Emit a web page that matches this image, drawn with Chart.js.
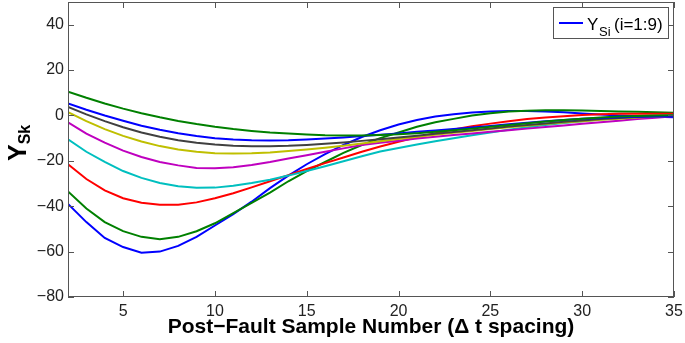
<!DOCTYPE html>
<html>
<head>
<meta charset="utf-8">
<script src="https://cdn.jsdelivr.net/npm/chart.js@4.4.0/dist/chart.umd.min.js"></script>
<style>
  html, body { margin: 0; padding: 0; background: #fff; }
</style>
</head>
<body>
<canvas id="myChart" width="685" height="343"></canvas>
<script>
// post-fault sample numbers (x)
const sampleNumbers = [2, 3, 4, 5, 6, 7, 8, 9, 10, 11, 12, 13, 14, 15, 16, 17, 18,
  19, 20, 21, 22, 23, 24, 25, 26, 27, 28, 29, 30, 31, 32, 33, 34, 35];

// Y_Si for i = 1..9
const ysi1 = [-39, -47, -54, -58, -60.5, -60, -57.5, -53.5, -48.5, -43.5, -38, -32, -26.5, -21.5, -17, -13, -9.5,
  -6.5, -4, -2, -0.5, 0.5, 1.3, 1.8, 2, 2, 1.8, 1.4, 0.9, 0.4, 0, -0.3, -0.6, -0.8];
const ysi2 = [-33.5, -41, -47, -51, -53.5, -54.5, -53.5, -51, -47.5, -43, -38.5, -34, -29, -24.5, -20.5, -16.5, -13,
  -10, -7.5, -5, -3, -1.5, 0, 1, 1.7, 2.1, 2.3, 2.3, 2.2, 2, 1.8, 1.6, 1.4, 1.2];
const ysi3 = [-21.5, -28, -33, -36.5, -38.5, -39.3, -39.3, -38.3, -36.5, -34.3, -31.7, -29, -26.3, -23.6, -21, -18.5, -16,
  -13.7, -11.6, -9.6, -7.8, -6.2, -4.8, -3.6, -2.5, -1.6, -0.9, -0.3, 0.2, 0.5, 0.7, 0.8, 0.8, 0.7];
const ysi4 = [-10.5, -16, -20.5, -24.5, -27.5, -29.8, -31.2, -31.9, -31.8, -31, -29.8, -28.3, -26.5, -24.5, -22.4, -20.2, -18,
  -15.9, -14.3, -12.8, -11.4, -10, -8.7, -7.5, -6.3, -5.2, -4.2, -3.3, -2.5, -1.8, -1.2, -0.7, -0.3, 0];
const ysi5 = [-3, -8, -12, -15.5, -18.3, -20.5, -22, -23.2, -23.3, -22.8, -21.8, -20.5, -19, -17.5, -16, -14.5, -13,
  -12, -11.1, -10.2, -9.4, -8.6, -7.9, -7.2, -6.5, -5.8, -5.1, -4.4, -3.7, -3, -2.3, -1.6, -1, -0.4];
const ysi6 = [1.5, -2.5, -6, -9, -11.5, -13.5, -15, -16, -16.6, -16.8, -16.7, -16.3, -15.7, -15, -14.2, -13.3, -12.4,
  -11.4, -10.4, -9.4, -8.5, -7.6, -6.8, -6, -5.2, -4.5, -3.8, -3.1, -2.5, -1.9, -1.4, -0.9, -0.5, -0.1];
const ysi7 = [3.8, 0.5, -2.5, -5.2, -7.5, -9.4, -10.9, -12, -12.8, -13.3, -13.6, -13.6, -13.4, -13, -12.5, -11.9, -11.2,
  -10.5, -9.7, -8.9, -8.1, -7.3, -6.5, -5.7, -4.9, -4.2, -3.5, -2.8, -2.2, -1.6, -1.1, -0.7, -0.4, -0.2];
const ysi8 = [5.3, 2.5, 0, -2.3, -4.5, -6.3, -7.8, -9, -10, -10.6, -10.9, -11, -10.9, -10.6, -10.2, -9.7, -9.1,
  -8.5, -7.9, -7.2, -6.6, -6, -5.3, -4.6, -3.9, -3.2, -2.6, -2, -1.5, -1.1, -0.8, -0.6, -0.5, -0.5];
const ysi9 = [10.5, 7.8, 5.3, 3, 1, -0.8, -2.4, -3.8, -5, -6, -6.8, -7.5, -8, -8.4, -8.7, -8.8, -8.8,
  -8.6, -8.3, -7.8, -7.2, -6.5, -5.8, -5, -4.2, -3.4, -2.7, -2, -1.4, -0.9, -0.5, -0.2, 0, 0.1];

const allSeries = [ysi1, ysi2, ysi3, ysi4, ysi5, ysi6, ysi7, ysi8, ysi9];
const seriesColors = ['#0000ff', '#008000', '#ff0000', '#00bfbf', '#bf00bf', '#bfbf00', '#404040', '#0000ff', '#008000'];

const xTicks = [5, 10, 15, 20, 25, 30, 35];
const yTicks = [-80, -60, -40, -20, 0, 20, 40];

const FONT = '"Liberation Sans", Arial, Helvetica, sans-serif';
const AXIS_COLOR = '#555';

const datasets = allSeries.map((vals, i) => ({
  label: 'Y_S' + (i + 1),
  data: vals.map((v, j) => ({ x: sampleNumbers[j], y: v })),
  borderColor: seriesColors[i],
  borderWidth: 2,
  pointRadius: 0,
  tension: 0,
  fill: false,
  order: allSeries.length - i
}));

// box, inward ticks, subscripted y title and legend (matlab look)
const matlabFrame = {
  id: 'matlabFrame',
  afterDraw(chart) {
    const ctx = chart.ctx;
    const a = chart.chartArea;
    const xs = chart.scales.x, ys = chart.scales.y;
    ctx.save();
    ctx.strokeStyle = AXIS_COLOR;
    ctx.lineWidth = 1;
    ctx.strokeRect(a.left + 0.5, a.top + 0.5, a.right - a.left - 1, a.bottom - a.top - 1);
    ctx.beginPath();
    xTicks.forEach(v => {
      const px = Math.round(xs.getPixelForValue(v)) + 0.5;
      ctx.moveTo(px, a.bottom); ctx.lineTo(px, a.bottom - 6);
      ctx.moveTo(px, a.top); ctx.lineTo(px, a.top + 6);
    });
    yTicks.forEach(v => {
      const py = Math.round(ys.getPixelForValue(v)) + 0.5;
      ctx.moveTo(a.left, py); ctx.lineTo(a.left + 6, py);
      ctx.moveTo(a.right, py); ctx.lineTo(a.right - 6, py);
    });
    ctx.stroke();

    // y axis title: Y_Sk
    ctx.fillStyle = '#000';
    ctx.translate(26, 161);
    ctx.rotate(-Math.PI / 2);
    ctx.textBaseline = 'alphabetic';
    ctx.textAlign = 'left';
    ctx.font = 'bold 25px ' + FONT;
    ctx.fillText('Y', 0, 0);
    const wY = ctx.measureText('Y').width;
    ctx.font = 'bold 16px ' + FONT;
    ctx.fillText('Sk', wY, 4);
    ctx.restore();

    // legend
    ctx.save();
    const lx = 553, ly = 7, lw = 115, lh = 31;
    ctx.fillStyle = '#fff';
    ctx.fillRect(lx, ly, lw, lh);
    ctx.strokeStyle = AXIS_COLOR;
    ctx.lineWidth = 1;
    ctx.strokeRect(lx + 0.5, ly + 0.5, lw, lh);
    ctx.strokeStyle = seriesColors[0];
    ctx.lineWidth = 2;
    ctx.beginPath();
    ctx.moveTo(559, 23); ctx.lineTo(583, 23);
    ctx.stroke();
    ctx.fillStyle = '#000';
    ctx.textBaseline = 'alphabetic';
    ctx.font = '17px ' + FONT;
    ctx.fillText('Y', 587, 30);
    ctx.font = '13px ' + FONT;
    ctx.fillText('Si', 599, 36);
    ctx.font = '17px ' + FONT;
    ctx.fillText('(i=1:9)', 614, 30);
    ctx.restore();
  }
};

const config = {
  type: 'line',
  data: { datasets: datasets },
  options: {
    responsive: false,
    animation: false,
    layout: { padding: { left: 0, right: 11, top: 2, bottom: 0 } },
    plugins: {
      legend: { display: false },
      tooltip: { enabled: false }
    },
    scales: {
      x: {
        type: 'linear',
        min: 2,
        max: 35,
        afterBuildTicks: s => { s.ticks = xTicks.map(v => ({ value: v })); },
        afterFit: s => { s.height = 46; s.paddingLeft = 0; s.paddingRight = 0; },
        grid: { display: false, drawTicks: false },
        border: { display: false },
        ticks: { font: { family: FONT, size: 16 }, color: '#222', padding: 5, maxRotation: 0 },
        title: {
          display: true,
          text: 'Post\u2212Fault Sample Number (\u0394 t spacing)',
          font: { family: FONT, size: 21, weight: 'bold' },
          color: '#000',
          padding: { top: 0, bottom: 3 }
        }
      },
      y: {
        type: 'linear',
        min: -80,
        max: 50,
        afterBuildTicks: s => { s.ticks = yTicks.map(v => ({ value: v })); },
        afterFit: s => { s.width = 68; s.paddingTop = 0; s.paddingBottom = 0; },
        grid: { display: false, drawTicks: false },
        border: { display: false },
        ticks: {
          font: { family: FONT, size: 16 },
          color: '#222',
          padding: 4,
          callback: v => String(v).replace('-', '\u2212')
        }
      }
    }
  },
  plugins: [matlabFrame]
};

const ctx = document.getElementById('myChart');
const myChart = new Chart(ctx, config);
</script>
</body>
</html>
